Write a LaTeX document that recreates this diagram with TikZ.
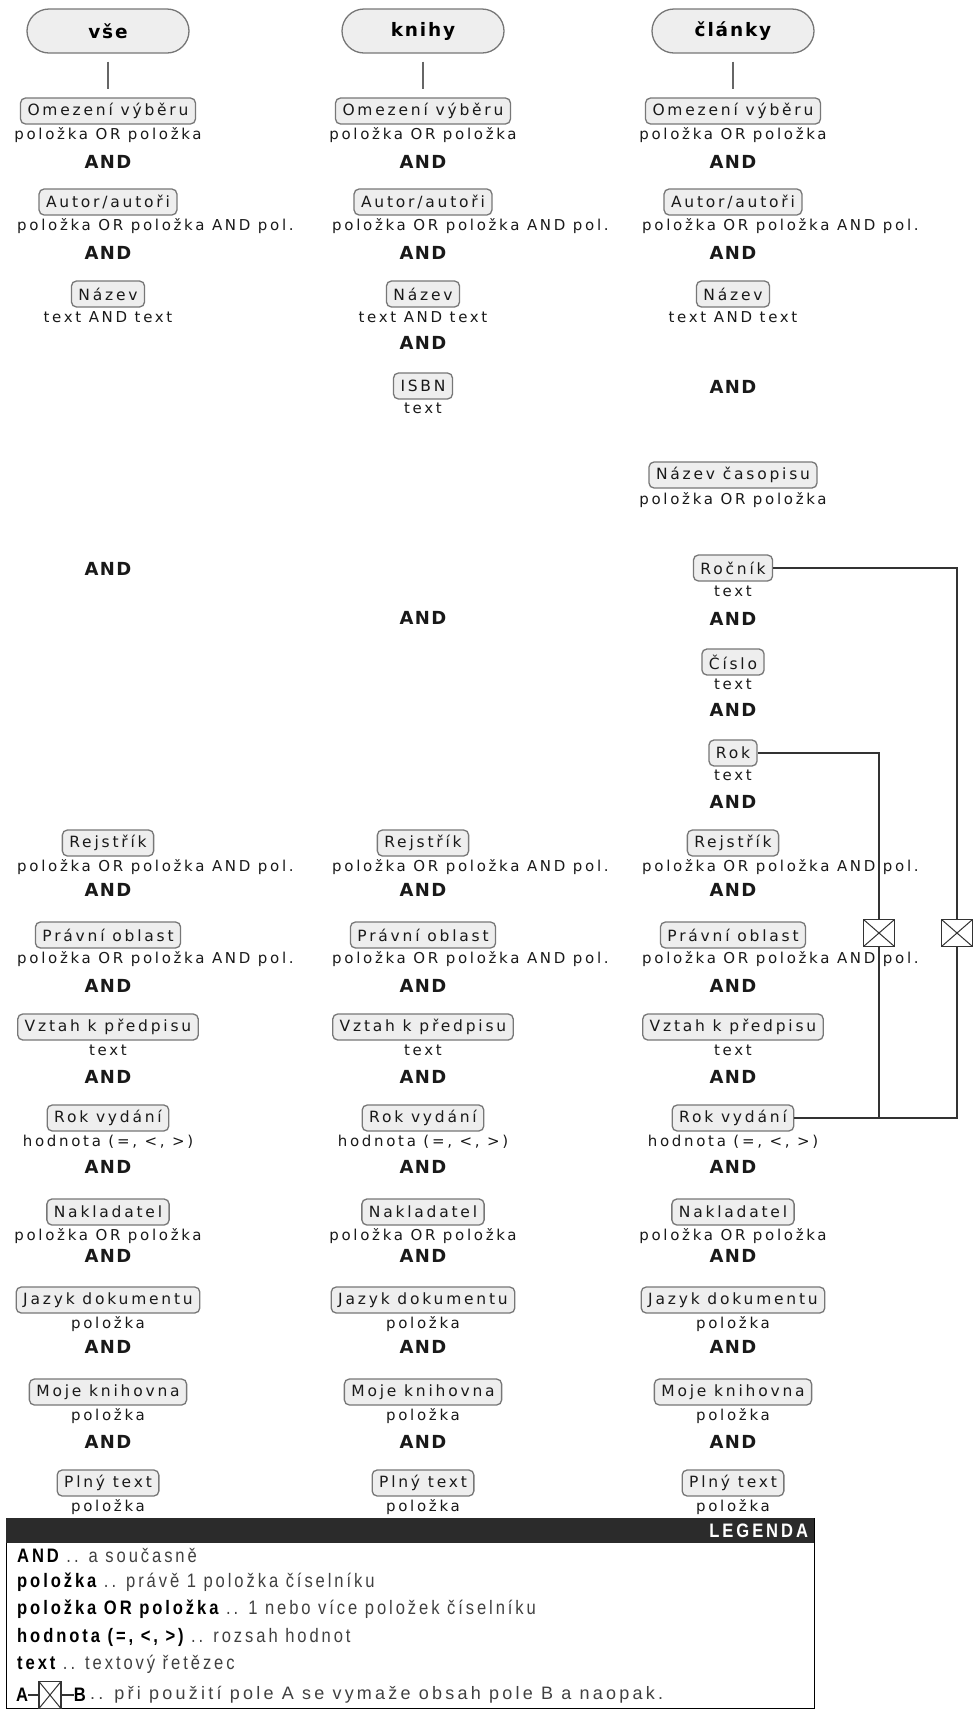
\documentclass[tikz,border=0pt]{standalone}
\usepackage{fontspec}
\usetikzlibrary{positioning}
\newfontfamily\fieldfont[LetterSpace=18]{DejaVu Sans}
\newfontfamily\andfont[LetterSpace=8]{DejaVu Sans}
\newfontfamily\headfont[LetterSpace=10]{DejaVu Sans}
\newfontfamily\legendfont[FakeStretch=0.85,LetterSpace=15]{Liberation Sans}
\newfontfamily\legendwide[LetterSpace=18]{Liberation Sans}
\definecolor{fieldfill}{HTML}{EEEEEE}
\definecolor{fieldline}{HTML}{777777}
\definecolor{legendbar}{HTML}{2B2B2B}
\tikzset{
  field/.style={draw=fieldline, fill=fieldfill, rounded corners=5pt, line width=1.3pt,
    inner xsep=7pt, inner ysep=0pt, minimum height=26pt, text=black!90,
    font=\fieldfont\fontsize{15.5}{17}\selectfont},
  subtext/.style={inner sep=0pt, text height=11pt, text depth=3pt, text=black!90,
    font=\fieldfont\fontsize{15}{17}\selectfont},
  short/.style={},
  long/.style={anchor=west, xshift=-91pt},
  andop/.style={inner sep=0pt, text=black!90, font=\andfont\bfseries\fontsize{18}{20}\selectfont},
  pill/.style={draw=fieldline, fill=fieldfill, rounded corners=22pt, line width=1.3pt,
    minimum width=162pt, minimum height=44pt, font=\headfont\bfseries\fontsize{18.5}{20}\selectfont},
  stem/.style={draw=black!60, line width=1.5pt, shorten <=8pt, shorten >=8pt},
  link/.style={draw=black!80, line width=1.4pt},
  swapbox/.style={draw=black!80, fill=white, line width=1.2pt, minimum width=31pt,
    minimum height=27pt, inner sep=0pt,
    path picture={\draw[black!80, line width=1pt]
      (path picture bounding box.south west) -- (path picture bounding box.north east)
      (path picture bounding box.north west) -- (path picture bounding box.south east);}},
  leghead/.style={fill=legendbar, minimum width=808pt, minimum height=25pt, text width=796pt,
    align=right, inner sep=0pt, text=white, font=\legendfont\bfseries\fontsize{19.5}{21}\selectfont},
  legline/.style={anchor=west, inner sep=0pt, text=black!75, font=\legendfont\fontsize{19.5}{21}\selectfont},
}
\begin{document}
\begin{tikzpicture}[x=1pt, y=-1pt]
\fill[white] (0,0) rectangle (973,1709);
\useasboundingbox (0,0) rectangle (973,1709);

% header pills
\node[pill] (vse-head) at (108,31) {vše};
\node[pill] (knihy-head) at (423,31) {knihy};
\node[pill] (clanky-head) at (733,31) {články};

% fields common to all three columns
\foreach \col/\cx in {vse/108, knihy/423, clanky/733}{
  \foreach \row/\lbl/\sub/\cy/\kind in {
    omezeni/Omezení výběru/položka OR položka/111/short,
    autor/{Autor/autoři}/položka OR položka AND pol./202/long,
    nazev/Název/text AND text/294/short,
    rejstrik/Rejstřík/položka OR položka AND pol./843/long,
    pravni/Právní oblast/položka OR položka AND pol./935/long,
    vztah/Vztah k předpisu/text/1027/short,
    rokvydani/Rok vydání/{hodnota (=, <, >)}/1118/short,
    nakladatel/Nakladatel/položka OR položka/1212/short,
    jazyk/Jazyk dokumentu/položka/1300/short,
    knihovna/Moje knihovna/položka/1392/short,
    plny/Plný text/položka/1483/short}{
    \node[field] (\col-\row) at (\cx,\cy) {\lbl};
    \node[subtext,\kind] (\col-\row-sub) at (\cx,\cy+24) {\sub};
  }
  \foreach \cy in {162,253,890,986,1077,1167,1256,1347,1442}
    \node[andop] (\col-and-\cy) at (\cx,\cy) {AND};
  \draw[stem] (\col-head) -- (\col-omezeni);
}

% vse
\node[andop] (vse-and-569) at (108,569) {AND};

% knihy
\node[andop] (knihy-and-343) at (423,343) {AND};
\node[field] (knihy-isbn) at (423,386) {ISBN};
\node[subtext] (knihy-isbn-sub) at (423,409) {text};
\node[andop] (knihy-and-618) at (423,618) {AND};

% clanky
\node[andop] (clanky-and-387) at (733,387) {AND};
\node[field] (clanky-casopis) at (733,475) {Název časopisu};
\node[subtext] (clanky-casopis-sub) at (733,500) {položka OR položka};
\node[field] (clanky-rocnik) at (733,568) {Ročník};
\node[subtext] (clanky-rocnik-sub) at (733,592) {text};
\node[andop] (clanky-and-619) at (733,619) {AND};
\node[field] (clanky-cislo) at (733,662) {Číslo};
\node[subtext] (clanky-cislo-sub) at (733,685) {text};
\node[andop] (clanky-and-710) at (733,710) {AND};
\node[field] (clanky-rok) at (733,753) {Rok};
\node[subtext] (clanky-rok-sub) at (733,776) {text};
\node[andop] (clanky-and-802) at (733,802) {AND};

% mutually exclusive fields
\node[swapbox] (swap-rok) at (879,933) {};
\node[swapbox] (swap-rocnik) at (957,933) {};
\draw[link] (clanky-rok.east) -| (swap-rok.north);
\draw[link] (swap-rok.south) |- (clanky-rokvydani.east);
\draw[link] (clanky-rocnik.east) -| (swap-rocnik.north);
\draw[link] (swap-rocnik.south) |- (clanky-rokvydani.east);

% legend
\draw[black, line width=1pt] (6,1518) rectangle (814,1708);
\node[leghead] (legend) at (410,1530.5) {LEGENDA};
\node[legline] (leg-and) at (17,1555) {{\bfseries\color{black}AND} .. a současně};
\node[legline] (leg-polozka) at (17,1582) {{\bfseries\color{black}položka} .. právě 1 položka číselníku};
\node[legline] (leg-or) at (17,1609) {{\bfseries\color{black}položka OR položka} .. 1 nebo více položek číselníku};
\node[legline] (leg-hodnota) at (17,1637) {{\bfseries\color{black}hodnota (=, <, >)} .. rozsah hodnot};
\node[legline] (leg-text) at (17,1664) {{\bfseries\color{black}text} .. textový řetězec};
\node[legline, text=black] (leg-a) at (16,1695) {\bfseries A};
\node[swapbox, minimum width=22pt, minimum height=27pt, right=10pt of leg-a] (leg-swap) {};
\node[legline, text=black, right=12pt of leg-swap] (leg-b) {\bfseries B};
\node[legline, right=4pt of leg-b, font=\legendwide\fontsize{18}{20}\selectfont] (leg-swaptext)
  {.. při použití pole A se vymaže obsah pole B a naopak.};
\draw[link] (leg-a) -- (leg-swap);
\draw[link] (leg-swap) -- (leg-b);
\end{tikzpicture}
\end{document}
